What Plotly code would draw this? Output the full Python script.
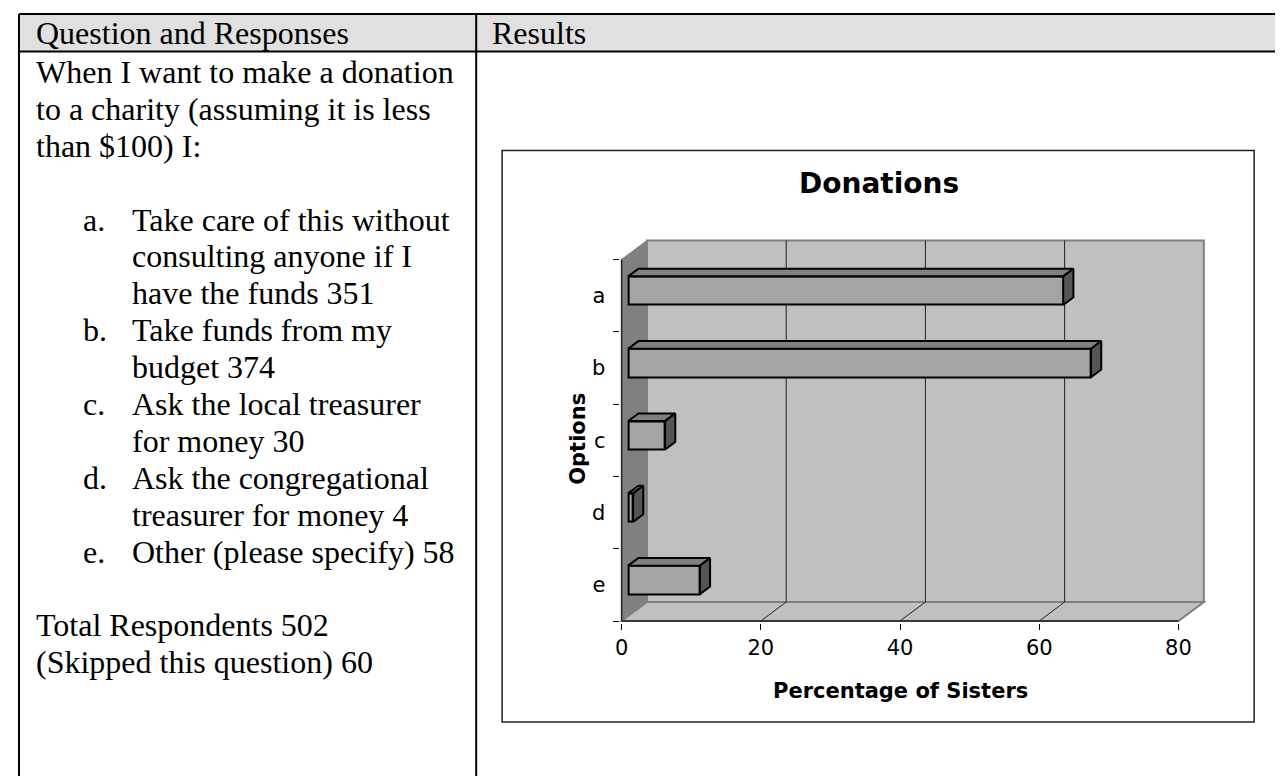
import plotly.graph_objects as go

W, H = 1283, 776

# ---- data ----
options = ["a", "b", "c", "d", "e"]
percent_of_sisters = [62.5, 66.5, 5.3, 0.7, 10.3]
x_ticks = [0, 20, 40, 60, 80]

header_left = "Question and Responses"
header_right = "Results"
question_lines = [
    "When I want to make a donation",
    "to a charity (assuming it is less",
    "than $100) I:",
]
response_markers = ["a.", "b.", "c.", "d.", "e."]
response_lines = [
    ["Take care of this without", "consulting anyone if I", "have the funds 351"],
    ["Take funds from my", "budget 374"],
    ["Ask the local treasurer", "for money 30"],
    ["Ask the congregational", "treasurer for money 4"],
    ["Other (please specify) 58"],
]
total_lines = ["Total Respondents 502", "(Skipped this question) 60"]

# ---- geometry of the 3d plot box (pixels) ----
X0_PX, X80_PX = 611, 1170
Y_BOT_PX, Y_TOP_PX = 613, 251.4
PXU_X = (X80_PX - X0_PX) / x_ticks[-1]
PXU_Y = (Y_BOT_PX - Y_TOP_PX) / len(options)
DX = 25.5 / PXU_X          # wall depth in data units
DY = 19.0 / PXU_Y
PAD = 2
x_lo = -PAD / PXU_X
x_hi = x_ticks[-1] + DX + PAD / PXU_X
y_lo = -0.5 - PAD / PXU_Y
y_hi = len(options) - 0.5 + DY + PAD / PXU_Y
dom_x = [(X0_PX + x_lo * PXU_X) / W, (X0_PX + x_hi * PXU_X) / W]
dom_y = [1 - (Y_BOT_PX - (y_lo + 0.5) * PXU_Y) / H, 1 - (Y_BOT_PX - (y_hi + 0.5) * PXU_Y) / H]

ypos = list(range(len(options)))[::-1]
top = len(options) - 0.5
XM = x_ticks[-1]

# bar depth inside the box
F0, F1 = 0.26, 0.66
BAR_H = 28.5 / PXU_Y
bx0 = F0 * DX
by = [p + F0 * DY for p in ypos]
ddx, ddy = (F1 - F0) * DX, (F1 - F0) * DY

fig = go.Figure()

fig.add_trace(go.Bar(
    orientation="h", y=by, x=percent_of_sisters, base=bx0, width=BAR_H,
    marker=dict(color="#a5a5a5", line=dict(color="black", width=2)),
    showlegend=False, hoverinfo="skip",
))

top_x, top_y, side_x, side_y = [], [], [], []
for v, c in zip(percent_of_sisters, by):
    x1 = bx0 + v
    yt, yb = c + BAR_H / 2, c - BAR_H / 2
    top_x += [bx0, x1, x1 + ddx, bx0 + ddx, bx0, None]
    top_y += [yt, yt, yt + ddy, yt + ddy, yt, None]
    side_x += [x1, x1 + ddx, x1 + ddx, x1, x1, None]
    side_y += [yb, yb + ddy, yt + ddy, yt, yb, None]

fig.add_trace(go.Scatter(x=top_x, y=top_y, mode="lines", fill="toself", fillcolor="#808080",
                         line=dict(color="black", width=2), showlegend=False, hoverinfo="skip"))
fig.add_trace(go.Scatter(x=side_x, y=side_y, mode="lines", fill="toself", fillcolor="#555555",
                         line=dict(color="black", width=2), showlegend=False, hoverinfo="skip"))


def path(pts):
    return "M " + " L ".join(f"{x},{y}" for x, y in pts) + " Z"


shapes = []
# table
shapes.append(dict(type="rect", xref="paper", yref="paper", x0=6 / W, x1=1279 / W, y0=1 - 43.5 / H, y1=1 - 6 / H,
                   fillcolor="#e0e0e0", line=dict(width=0), layer="below"))
for x0, y0, x1, y1 in [(6, 6, 1279, 6), (6, 43.5, 1279, 43.5), (6, 6, 6, 776), (465, 6, 465, 776), (1279, 6, 1279, 776)]:
    shapes.append(dict(type="line", xref="paper", yref="paper", x0=x0 / W, x1=x1 / W, y0=1 - y0 / H, y1=1 - y1 / H,
                       line=dict(color="black", width=2)))
# chart box
shapes.append(dict(type="rect", xref="paper", yref="paper", x0=491 / W, x1=1246 / W, y0=1 - 714 / H, y1=1 - 142.5 / H,
                   line=dict(color="#222222", width=1.5), fillcolor="white", layer="below"))
# walls
shapes.append(dict(type="path", xref="x", yref="y", layer="below", fillcolor="#c0c0c0",
                   line=dict(color="#808080", width=2),
                   path=path([(DX, -0.5 + DY), (XM + DX, -0.5 + DY), (XM + DX, top + DY), (DX, top + DY)])))
shapes.append(dict(type="path", xref="x", yref="y", layer="below", fillcolor="#c0c0c0",
                   line=dict(color="#808080", width=2),
                   path=path([(0, -0.5), (XM, -0.5), (XM + DX, -0.5 + DY), (DX, -0.5 + DY)])))
shapes.append(dict(type="path", xref="x", yref="y", layer="below", fillcolor="#808080",
                   line=dict(color="#808080", width=1),
                   path=path([(0, -0.5), (0, top), (DX, top + DY), (DX, -0.5 + DY)])))
for t in x_ticks[1:-1]:
    shapes.append(dict(type="line", xref="x", yref="y", layer="below", x0=t + DX, x1=t + DX,
                       y0=-0.5 + DY, y1=top + DY, line=dict(color="#202020", width=1)))
    shapes.append(dict(type="line", xref="x", yref="y", layer="below", x0=t, x1=t + DX,
                       y0=-0.5, y1=-0.5 + DY, line=dict(color="#202020", width=1)))
shapes.append(dict(type="line", xref="x", yref="y", layer="below", x0=0, x1=XM, y0=-0.5, y1=-0.5,
                   line=dict(color="#202020", width=1.5)))
shapes.append(dict(type="line", xref="x", yref="y", layer="below", x0=0, x1=0, y0=-0.5, y1=top,
                   line=dict(color="#202020", width=1.5)))

serif = dict(family="Liberation Serif", size=32, color="black")
ann = []


def text_at(x, y, s, font=serif, **kw):
    ann.append(dict(x=x / W, y=1 - y / H, xref="paper", yref="paper", text=s, showarrow=False,
                    xanchor=kw.pop("xanchor", "left"), yanchor="middle", font=font, **kw))


LINE = 36.9
text_at(21, 25, header_left)
text_at(479, 25, header_right)
y = 64
for s in question_lines:
    text_at(21, y, s)
    y += LINE
y += LINE
for m, lines in zip(response_markers, response_lines):
    text_at(68, y, m)
    for s in lines:
        text_at(117, y, s)
        y += LINE
y += LINE
for s in total_lines:
    text_at(21, y, s)
    y += LINE

sans_b = dict(family="DejaVu Sans", size=21, color="black", weight="bold")
text_at(869, 176, "<b>Donations</b>", font=dict(family="DejaVu Sans", size=28, color="black"), xanchor="center")
text_at(890.5, 683, "<b>Percentage of Sisters</b>", font=dict(family="DejaVu Sans", size=21, color="black"),
        xanchor="center")
text_at(567, 431, "<b>Options</b>", font=dict(family="DejaVu Sans", size=21, color="black"), xanchor="center",
        textangle=-90)

fig.update_layout(
    width=W, height=H, margin=dict(l=0, r=0, t=0, b=0),
    paper_bgcolor="white", plot_bgcolor="rgba(0,0,0,0)",
    shapes=shapes, annotations=ann, showlegend=False, bargap=0,
    xaxis=dict(domain=dom_x, range=[x_lo, x_hi], tickvals=x_ticks, ticks="outside", ticklen=6,
               tickcolor="black", showgrid=False, zeroline=False, showline=False,
               tickfont=dict(family="DejaVu Sans", size=21, color="black")),
    yaxis=dict(domain=dom_y, range=[y_lo, y_hi], tickvals=ypos, ticktext=options, ticks="outside",
               ticklen=9, tickcolor="rgba(0,0,0,0)", showgrid=False, zeroline=False, showline=False,
               tickfont=dict(family="DejaVu Sans", size=21, color="black"),
               minor=dict(tickvals=[p - 0.5 for p in range(len(options) + 1)], ticks="outside",
                          ticklen=6, tickcolor="black")),
)

fig.write_html("out.html")
